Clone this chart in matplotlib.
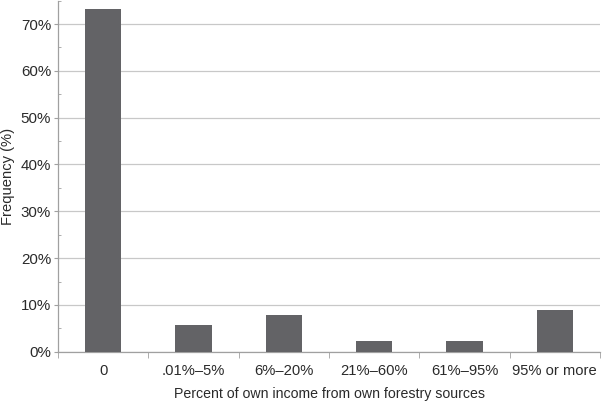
import matplotlib
matplotlib.use("Agg")
import matplotlib.pyplot as plt
import numpy as np
from matplotlib.ticker import FuncFormatter, MultipleLocator

categories = ["0", ".01%\u20135%", "6%\u201320%", "21%\u201360%", "61%\u201395%", "95% or more"]
freq = [73.2, 5.6, 7.8, 2.2, 2.2, 8.9]

plt.rcParams['font.family'] = ['Liberation Sans', 'DejaVu Sans']

fig = plt.figure(figsize=(6.02, 4.01), dpi=100)
ax = fig.add_axes([58 / 602, 1 - 351.7 / 401, 542 / 602, 351.0 / 401])

x = np.arange(len(categories))
ax.bar(x, freq, width=0.4, color="#636366", edgecolor="none", zorder=3)

ax.set_xlim(-0.5, len(categories) - 0.5)
ax.set_ylim(0, 75)
ax.yaxis.set_major_locator(MultipleLocator(10))
ax.yaxis.set_minor_locator(MultipleLocator(5))
ax.yaxis.set_major_formatter(FuncFormatter(lambda v, p: "%d%%" % v))
ax.grid(axis="y", color="#c8c8c8", linewidth=0.9, zorder=0)

ax.set_xticks(x)
ax.set_xticklabels(categories)
ax.set_xticks(np.arange(len(categories) + 1) - 0.5, minor=True)
ax.tick_params(axis="x", which="major", length=0, pad=9, labelsize=10.6, labelcolor="#2a2a2a")
ax.tick_params(axis="x", which="minor", length=4, direction="out", color="#a0a0a0")
ax.tick_params(axis="y", which="major", length=3, direction="out", color="#a0a0a0",
               labelsize=10.9, labelcolor="#2a2a2a", pad=2)
ax.tick_params(axis="y", which="minor", length=2, direction="in", color="#a0a0a0")

for side in ["top", "right"]:
    ax.spines[side].set_visible(False)
for side in ["left", "bottom"]:
    ax.spines[side].set_color("#a0a0a0")
    ax.spines[side].set_linewidth(0.9)

ax.set_xlabel("Percent of own income from own forestry sources", fontsize=10.2, color="#2a2a2a", labelpad=6)
ax.set_ylabel("Frequency (%)", fontsize=10.6, color="#2a2a2a", labelpad=4)

fig.savefig("out.png", dpi=100)
